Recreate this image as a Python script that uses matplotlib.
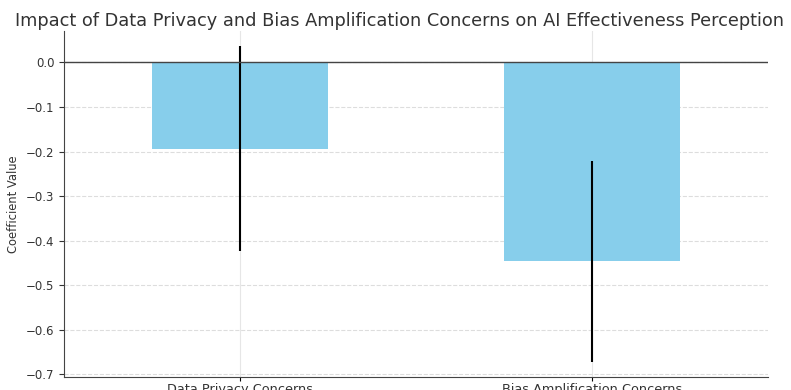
import numpy as np
import matplotlib
matplotlib.use('Agg')
import matplotlib.pyplot as plt

categories = ['Data Privacy Concerns', 'Bias Amplification Concerns']
coefficients = [-0.194, -0.446]
errors = [0.230, 0.225]

fig = plt.figure(figsize=(7.91, 3.90), dpi=100)
ax = fig.add_axes([0.081, 0.033, 0.890, 0.887])

x = np.arange(len(categories))
ax.bar(x, coefficients, width=0.5, color='skyblue', yerr=errors,
       error_kw=dict(ecolor='black', elinewidth=1.5, capsize=0), zorder=2)
ax.axhline(0, color='#444444', linewidth=1, zorder=3)

ax.set_xticks(x)
ax.set_xticklabels(categories, fontsize=9.3, color='#333333')
ax.set_xlim(-0.5, 1.5)
ax.set_ylim(-0.706, 0.07)
ax.set_yticks([0.0, -0.1, -0.2, -0.3, -0.4, -0.5, -0.6, -0.7])
ax.tick_params(axis='y', labelsize=8.5, colors='#333333')
ax.tick_params(axis='x', length=3, pad=1)
ax.set_ylabel('Coefficient Value', fontsize=8.3, color='#333333')
ax.set_title('Impact of Data Privacy and Bias Amplification Concerns on AI Effectiveness Perception',
             fontsize=12.8, color='#333333', pad=4, x=0.477)

ax.grid(axis='y', linestyle='--', color='#dddddd', linewidth=0.8, zorder=0)
ax.grid(axis='x', linestyle='-', color='#e6e6e6', linewidth=0.8, zorder=0)
ax.set_axisbelow(True)
ax.spines['top'].set_visible(False)
ax.spines['right'].set_visible(False)
ax.spines['left'].set_color('#444444')
ax.spines['bottom'].set_color('#444444')

plt.savefig('out.png', dpi=100)
